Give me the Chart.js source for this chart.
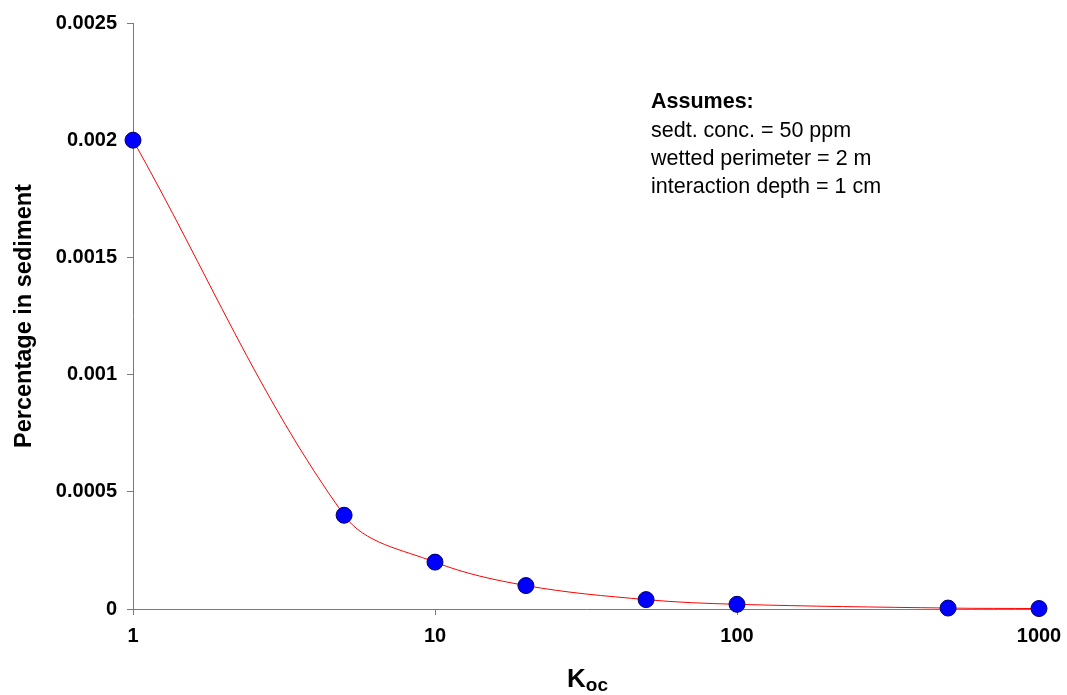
<!DOCTYPE html>
<html>
<head>
<meta charset="utf-8">
<script src="https://cdn.jsdelivr.net/npm/chart.js@4/dist/chart.umd.min.js"></script>
<style>
  html, body { margin: 0; padding: 0; background: #ffffff; }
  #wrap { width: 1067px; height: 695px; position: relative; }
</style>
</head>
<body>
<div id="wrap"><canvas id="c" width="1067" height="695"></canvas></div>
<script>
// ---- data ----
const koc = [1, 5, 10, 20, 50, 100, 500, 1000];
const pctSediment = [0.002, 0.0004, 0.0002, 0.0001, 0.00004, 0.00002, 0.000004, 0.000002];
const xTicks = [1, 10, 100, 1000];
const yTicks = [0, 0.0005, 0.001, 0.0015, 0.002, 0.0025];
const yTickLabels = ["0", "0.0005", "0.001", "0.0015", "0.002", "0.0025"];
const yTitle = "Percentage in sediment";
const xTitleMain = "K";
const xTitleSub = "oc";
const noteTitle = "Assumes:";
const noteLines = ["sedt. conc. = 50 ppm", "wetted perimeter = 2 m", "interaction depth = 1 cm"];

const FONT = '"Liberation Sans", Arial, Helvetica, sans-serif';
const AXIS_COLOR = '#7a7a7a';

const textPlugin = {
  id: 'texts',
  afterDraw(chart) {
    const ctx = chart.ctx;
    ctx.save();
    ctx.fillStyle = '#000000';
    // note
    ctx.textAlign = 'left';
    ctx.textBaseline = 'alphabetic';
    ctx.font = 'bold 21.5px ' + FONT;
    ctx.fillText(noteTitle, 651, 108);
    ctx.font = '21.5px ' + FONT;
    noteLines.forEach((t, i) => ctx.fillText(t, 651, 137 + i * 28));
    // y title
    ctx.save();
    ctx.translate(25, 316);
    ctx.rotate(-Math.PI / 2);
    ctx.textAlign = 'center';
    ctx.textBaseline = 'middle';
    ctx.font = 'bold 23.5px ' + FONT;
    ctx.fillText(yTitle, 0, 0);
    ctx.restore();
    // x title with subscript
    ctx.font = 'bold 26px ' + FONT;
    const wK = ctx.measureText(xTitleMain).width;
    const startX = 567;
    ctx.textAlign = 'left';
    ctx.fillText(xTitleMain, startX, 687);
    ctx.font = 'bold 19px ' + FONT;
    ctx.fillText(xTitleSub, startX + wK, 691);
    ctx.restore();
  }
};

new Chart(document.getElementById('c'), {
  type: 'scatter',
  data: {
    datasets: [{
      data: koc.map((k, i) => ({ x: k, y: pctSediment[i] })),
      showLine: true,
      borderColor: '#ff0000',
      borderWidth: 1,
      tension: 0.35,
      pointRadius: 8,
      pointHoverRadius: 8,
      pointBackgroundColor: '#0000ff',
      pointBorderColor: '#000066',
      pointBorderWidth: 1,
      clip: false
    }]
  },
  options: {
    responsive: false,
    animation: false,
    devicePixelRatio: 1,
    layout: { padding: { top: 23, right: 28, left: 0, bottom: 0 } },
    plugins: { legend: { display: false }, tooltip: { enabled: false }, title: { display: false } },
    scales: {
      x: {
        type: 'logarithmic',
        min: 1, max: 1000,
        afterBuildTicks(scale) { scale.ticks = xTicks.map(v => ({ value: v, major: true })); },
        afterFit(scale) { scale.height = 86; scale.paddingRight = 0; scale.paddingLeft = 0; },
        ticks: {
          autoSkip: false, maxRotation: 0, padding: 9,
          color: '#000', font: { family: FONT, size: 20, weight: 'bold' },
          callback: (v) => String(v)
        },
        grid: { display: true, drawOnChartArea: false, drawTicks: true, tickLength: 6, color: AXIS_COLOR, lineWidth: 1 },
        border: { display: true, color: AXIS_COLOR, width: 1 }
      },
      y: {
        type: 'linear',
        min: 0, max: 0.0025,
        afterBuildTicks(scale) { scale.ticks = yTicks.map(v => ({ value: v })); },
        afterFit(scale) { scale.width = 133; scale.paddingTop = 0; scale.paddingBottom = 0; },
        ticks: {
          autoSkip: false, padding: 10,
          color: '#000', font: { family: FONT, size: 20, weight: 'bold' },
          callback: (v) => { const i = yTicks.findIndex(t => Math.abs(t - v) < 1e-9); return i >= 0 ? yTickLabels[i] : ''; }
        },
        grid: { display: true, drawOnChartArea: false, drawTicks: true, tickLength: 6, color: AXIS_COLOR, lineWidth: 1 },
        border: { display: true, color: AXIS_COLOR, width: 1 }
      }
    }
  },
  plugins: [textPlugin]
});
</script>
</body>
</html>
